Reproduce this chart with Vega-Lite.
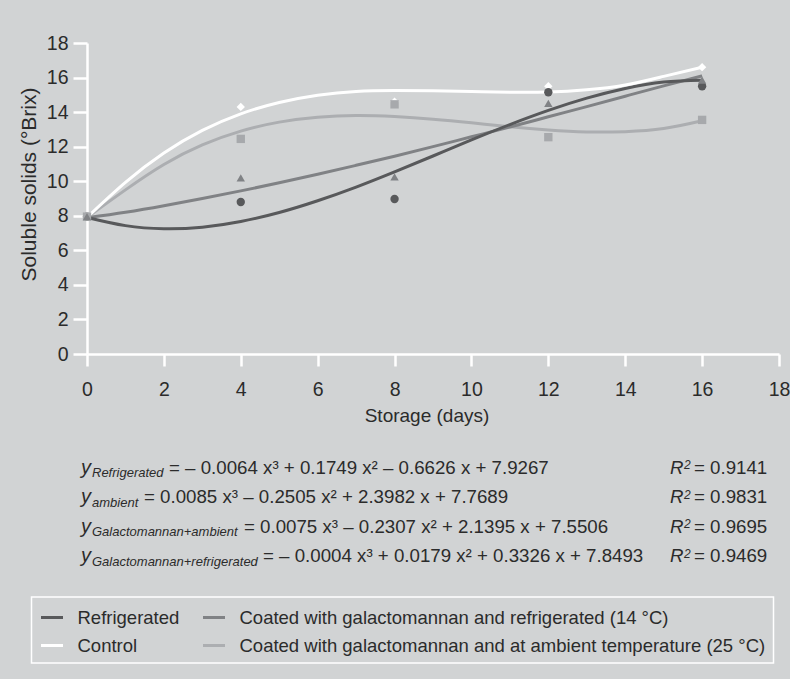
{
  "$schema": "https://vega.github.io/schema/vega-lite/v6.json",
  "width": 692,
  "height": 311,
  "autosize": {"type": "none"},
  "padding": {"left": 87, "top": 43, "right": 11, "bottom": 325},
  "background": "#d1d3d4",
  "config": {
    "view": {"stroke": null},
    "font": "Liberation Sans",
    "axis": {
      "grid": false,
      "domainColor": "#ffffff",
      "domainWidth": 2.5,
      "tickColor": "#ffffff",
      "tickWidth": 2.5,
      "labelFont": "Liberation Sans",
      "labelFontSize": 19.5,
      "labelColor": "#2b2b2b",
      "labelFlush": false,
      "titleFont": "Liberation Sans",
      "titleFontSize": 19,
      "titleFontWeight": "normal",
      "titleColor": "#2b2b2b"
    },
    "legend": {"strokeWidth": 1.5}
  },
  "datasets": {
    "curves": [
      {"series": "Coated with galactomannan and at ambient temperature (25 °C)", "day": 0, "brix": 7.9},
      {"series": "Coated with galactomannan and at ambient temperature (25 °C)", "day": 1, "brix": 9.5},
      {"series": "Coated with galactomannan and at ambient temperature (25 °C)", "day": 2, "brix": 10.97},
      {"series": "Coated with galactomannan and at ambient temperature (25 °C)", "day": 3, "brix": 12.1},
      {"series": "Coated with galactomannan and at ambient temperature (25 °C)", "day": 4, "brix": 12.9},
      {"series": "Coated with galactomannan and at ambient temperature (25 °C)", "day": 5, "brix": 13.42},
      {"series": "Coated with galactomannan and at ambient temperature (25 °C)", "day": 6, "brix": 13.7},
      {"series": "Coated with galactomannan and at ambient temperature (25 °C)", "day": 7, "brix": 13.8},
      {"series": "Coated with galactomannan and at ambient temperature (25 °C)", "day": 8, "brix": 13.74},
      {"series": "Coated with galactomannan and at ambient temperature (25 °C)", "day": 9, "brix": 13.59},
      {"series": "Coated with galactomannan and at ambient temperature (25 °C)", "day": 10, "brix": 13.38},
      {"series": "Coated with galactomannan and at ambient temperature (25 °C)", "day": 11, "brix": 13.15},
      {"series": "Coated with galactomannan and at ambient temperature (25 °C)", "day": 12, "brix": 12.96},
      {"series": "Coated with galactomannan and at ambient temperature (25 °C)", "day": 13, "brix": 12.85},
      {"series": "Coated with galactomannan and at ambient temperature (25 °C)", "day": 14, "brix": 12.87},
      {"series": "Coated with galactomannan and at ambient temperature (25 °C)", "day": 15, "brix": 13.05},
      {"series": "Coated with galactomannan and at ambient temperature (25 °C)", "day": 16, "brix": 13.5},
      {"series": "Coated with galactomannan and refrigerated (14 °C)", "day": 0, "brix": 7.88},
      {"series": "Coated with galactomannan and refrigerated (14 °C)", "day": 1, "brix": 8.2},
      {"series": "Coated with galactomannan and refrigerated (14 °C)", "day": 2, "brix": 8.58},
      {"series": "Coated with galactomannan and refrigerated (14 °C)", "day": 3, "brix": 9.0},
      {"series": "Coated with galactomannan and refrigerated (14 °C)", "day": 4, "brix": 9.44},
      {"series": "Coated with galactomannan and refrigerated (14 °C)", "day": 5, "brix": 9.91},
      {"series": "Coated with galactomannan and refrigerated (14 °C)", "day": 6, "brix": 10.4},
      {"series": "Coated with galactomannan and refrigerated (14 °C)", "day": 7, "brix": 10.92},
      {"series": "Coated with galactomannan and refrigerated (14 °C)", "day": 8, "brix": 11.45},
      {"series": "Coated with galactomannan and refrigerated (14 °C)", "day": 9, "brix": 12.0},
      {"series": "Coated with galactomannan and refrigerated (14 °C)", "day": 10, "brix": 12.57},
      {"series": "Coated with galactomannan and refrigerated (14 °C)", "day": 11, "brix": 13.14},
      {"series": "Coated with galactomannan and refrigerated (14 °C)", "day": 12, "brix": 13.73},
      {"series": "Coated with galactomannan and refrigerated (14 °C)", "day": 13, "brix": 14.32},
      {"series": "Coated with galactomannan and refrigerated (14 °C)", "day": 14, "brix": 14.92},
      {"series": "Coated with galactomannan and refrigerated (14 °C)", "day": 15, "brix": 15.52},
      {"series": "Coated with galactomannan and refrigerated (14 °C)", "day": 16, "brix": 16.1},
      {"series": "Refrigerated", "day": 0, "brix": 7.9},
      {"series": "Refrigerated", "day": 1, "brix": 7.43},
      {"series": "Refrigerated", "day": 2, "brix": 7.25},
      {"series": "Refrigerated", "day": 3, "brix": 7.34},
      {"series": "Refrigerated", "day": 4, "brix": 7.67},
      {"series": "Refrigerated", "day": 5, "brix": 8.19},
      {"series": "Refrigerated", "day": 6, "brix": 8.87},
      {"series": "Refrigerated", "day": 7, "brix": 9.66},
      {"series": "Refrigerated", "day": 8, "brix": 10.54},
      {"series": "Refrigerated", "day": 9, "brix": 11.46},
      {"series": "Refrigerated", "day": 10, "brix": 12.39},
      {"series": "Refrigerated", "day": 11, "brix": 13.28},
      {"series": "Refrigerated", "day": 12, "brix": 14.1},
      {"series": "Refrigerated", "day": 13, "brix": 14.81},
      {"series": "Refrigerated", "day": 14, "brix": 15.37},
      {"series": "Refrigerated", "day": 15, "brix": 15.74},
      {"series": "Refrigerated", "day": 16, "brix": 15.85},
      {"series": "Control", "day": 0, "brix": 7.9},
      {"series": "Control", "day": 1, "brix": 9.93},
      {"series": "Control", "day": 2, "brix": 11.63},
      {"series": "Control", "day": 3, "brix": 12.94},
      {"series": "Control", "day": 4, "brix": 13.9},
      {"series": "Control", "day": 5, "brix": 14.56},
      {"series": "Control", "day": 6, "brix": 14.98},
      {"series": "Control", "day": 7, "brix": 15.2},
      {"series": "Control", "day": 8, "brix": 15.25},
      {"series": "Control", "day": 9, "brix": 15.24},
      {"series": "Control", "day": 10, "brix": 15.2},
      {"series": "Control", "day": 11, "brix": 15.15},
      {"series": "Control", "day": 12, "brix": 15.16},
      {"series": "Control", "day": 13, "brix": 15.29},
      {"series": "Control", "day": 14, "brix": 15.57},
      {"series": "Control", "day": 15, "brix": 16.07},
      {"series": "Control", "day": 16, "brix": 16.6}
    ],
    "obs": [
      {"group": "Control", "day": 0, "brix": 7.95},
      {"group": "Control", "day": 4, "brix": 14.3},
      {"group": "Control", "day": 8, "brix": 14.6},
      {"group": "Control", "day": 12, "brix": 15.5},
      {"group": "Control", "day": 16, "brix": 16.6},
      {"group": "Refrigerated", "day": 0, "brix": 7.95},
      {"group": "Refrigerated", "day": 4, "brix": 8.8},
      {"group": "Refrigerated", "day": 8, "brix": 8.97},
      {"group": "Refrigerated", "day": 12, "brix": 15.15},
      {"group": "Refrigerated", "day": 16, "brix": 15.5},
      {"group": "Galactomannan ambient", "day": 0, "brix": 7.95},
      {"group": "Galactomannan ambient", "day": 4, "brix": 12.45},
      {"group": "Galactomannan ambient", "day": 8, "brix": 14.45},
      {"group": "Galactomannan ambient", "day": 12, "brix": 12.55},
      {"group": "Galactomannan ambient", "day": 16, "brix": 13.55},
      {"group": "Galactomannan refrigerated", "day": 0, "brix": 7.95},
      {"group": "Galactomannan refrigerated", "day": 4, "brix": 10.2},
      {"group": "Galactomannan refrigerated", "day": 8, "brix": 10.25},
      {"group": "Galactomannan refrigerated", "day": 12, "brix": 14.5},
      {"group": "Galactomannan refrigerated", "day": 16, "brix": 15.85}
    ],
    "eq": [
      {"line": 1, "sub": "Refrigerated", "rhs": "= – 0.0064 x³ + 0.1749 x² – 0.6626 x + 7.9267", "r2": "= 0.9141"},
      {"line": 2, "sub": "ambient", "rhs": "= 0.0085 x³ – 0.2505 x² + 2.3982 x + 7.7689", "r2": "= 0.9831"},
      {"line": 3, "sub": "Galactomannan+ambient", "rhs": "= 0.0075 x³ – 0.2307 x² + 2.1395 x + 7.5506", "r2": "= 0.9695"},
      {"line": 4, "sub": "Galactomannan+refrigerated", "rhs": "= – 0.0004 x³ + 0.0179 x² + 0.3326 x + 7.8493", "r2": "= 0.9469"}
    ]
  },
  "layer": [
    {
      "data": {"name": "curves"},
      "mark": {"type": "line", "interpolate": "natural", "strokeWidth": 3},
      "encoding": {
        "x": {
          "field": "day", "type": "quantitative",
          "scale": {"domain": [0, 18]},
          "axis": {
            "values": [0, 2, 4, 6, 8, 10, 12, 14, 16, 18],
            "title": "Storage (days)",
            "tickSize": 12,
            "labelPadding": 14,
            "titleX": 339.5,
            "titleY": 67,
            "titleBaseline": "alphabetic"
          }
        },
        "y": {
          "field": "brix", "type": "quantitative",
          "scale": {"domain": [0, 18]},
          "axis": {
            "values": [0, 2, 4, 6, 8, 10, 12, 14, 16, 18],
            "title": "Soluble solids (°Brix)",
            "titleFontSize": 21,
            "tickSize": 14,
            "labelPadding": 5,
            "titleX": -58,
            "titleY": 141,
            "titleAlign": "center",
            "titleBaseline": "middle",
            "titleAngle": -90
          }
        },
        "color": {
          "field": "series", "type": "nominal",
          "scale": {
            "domain": ["Refrigerated", "Control", "Coated with galactomannan and refrigerated (14 °C)", "Coated with galactomannan and at ambient temperature (25 °C)"],
            "range": ["#58595b", "#ffffff", "#808285", "#acaeb1"]
          },
          "legend": {
            "title": null,
            "orient": "none",
            "legendX": -55.5,
            "legendY": 554,
            "columns": 2,
            "symbolType": "stroke",
            "symbolSize": 484,
            "symbolStrokeWidth": 3,
            "labelFont": "Liberation Sans",
            "labelFontSize": 18.5,
            "labelColor": "#2b2b2b",
            "labelOffset": 13,
            "labelLimit": 700,
            "columnPadding": 17,
            "rowPadding": 6,
            "padding": 8,
            "strokeColor": "#ffffff"
          }
        }
      }
    },
    {
      "data": {"name": "obs"},
      "mark": {"type": "point", "filled": true, "opacity": 1, "size": 70},
      "encoding": {
        "x": {"field": "day", "type": "quantitative", "scale": {"domain": [0, 18]}},
        "y": {"field": "brix", "type": "quantitative", "scale": {"domain": [0, 18]}, "axis": null},
        "shape": {
          "field": "group", "type": "nominal",
          "scale": {
            "domain": ["Refrigerated", "Galactomannan refrigerated", "Control", "Galactomannan ambient"],
            "range": ["circle", "triangle-up", "diamond", "square"]
          },
          "legend": null
        },
        "fill": {
          "field": "group", "type": "nominal",
          "scale": {
            "domain": ["Refrigerated", "Galactomannan refrigerated", "Control", "Galactomannan ambient"],
            "range": ["#58595b", "#808285", "#ffffff", "#a7a9ac"]
          },
          "legend": null
        }
      }
    },
    {
      "data": {"name": "eq"},
      "mark": {"type": "text", "text": "y", "fontStyle": "italic", "fontSize": 20, "align": "left", "baseline": "alphabetic", "fill": "#2b2b2b"},
      "encoding": {
        "x": {"value": -6},
        "y": {"field": "line", "type": "quantitative", "scale": {"domain": [1, 4], "range": [430.5, 519]}, "axis": null}
      }
    },
    {
      "data": {"name": "eq"},
      "mark": {"type": "text", "fontStyle": "italic", "fontSize": 13, "align": "left", "baseline": "alphabetic", "dy": 3.5, "fill": "#2b2b2b"},
      "encoding": {
        "text": {"field": "sub"},
        "x": {"value": 5},
        "y": {"field": "line", "type": "quantitative", "scale": {"domain": [1, 4], "range": [430.5, 519]}, "axis": null}
      }
    },
    {
      "data": {"name": "eq"},
      "transform": [{"filter": "datum.line == 1"}],
      "mark": {"type": "text", "fontSize": 18.7, "align": "left", "baseline": "alphabetic", "fill": "#2b2b2b"},
      "encoding": {
        "text": {"field": "rhs"},
        "x": {"value": 82},
        "y": {"field": "line", "type": "quantitative", "scale": {"domain": [1, 4], "range": [430.5, 519]}, "axis": null}
      }
    },
    {
      "data": {"name": "eq"},
      "transform": [{"filter": "datum.line == 2"}],
      "mark": {"type": "text", "fontSize": 18.7, "align": "left", "baseline": "alphabetic", "fill": "#2b2b2b"},
      "encoding": {
        "text": {"field": "rhs"},
        "x": {"value": 57},
        "y": {"field": "line", "type": "quantitative", "scale": {"domain": [1, 4], "range": [430.5, 519]}, "axis": null}
      }
    },
    {
      "data": {"name": "eq"},
      "transform": [{"filter": "datum.line == 3"}],
      "mark": {"type": "text", "fontSize": 18.7, "align": "left", "baseline": "alphabetic", "fill": "#2b2b2b"},
      "encoding": {
        "text": {"field": "rhs"},
        "x": {"value": 157},
        "y": {"field": "line", "type": "quantitative", "scale": {"domain": [1, 4], "range": [430.5, 519]}, "axis": null}
      }
    },
    {
      "data": {"name": "eq"},
      "transform": [{"filter": "datum.line == 4"}],
      "mark": {"type": "text", "fontSize": 18.7, "align": "left", "baseline": "alphabetic", "fill": "#2b2b2b"},
      "encoding": {
        "text": {"field": "rhs"},
        "x": {"value": 176},
        "y": {"field": "line", "type": "quantitative", "scale": {"domain": [1, 4], "range": [430.5, 519]}, "axis": null}
      }
    },
    {
      "data": {"name": "eq"},
      "mark": {"type": "text", "text": "R", "fontStyle": "italic", "fontSize": 18.7, "align": "left", "baseline": "alphabetic", "fill": "#2b2b2b"},
      "encoding": {
        "x": {"value": 583},
        "y": {"field": "line", "type": "quantitative", "scale": {"domain": [1, 4], "range": [430.5, 519]}, "axis": null}
      }
    },
    {
      "data": {"name": "eq"},
      "mark": {"type": "text", "text": "2", "fontStyle": "italic", "fontSize": 12, "align": "left", "baseline": "alphabetic", "dy": -4.5, "fill": "#2b2b2b"},
      "encoding": {
        "x": {"value": 597},
        "y": {"field": "line", "type": "quantitative", "scale": {"domain": [1, 4], "range": [430.5, 519]}, "axis": null}
      }
    },
    {
      "data": {"name": "eq"},
      "mark": {"type": "text", "fontSize": 18.7, "align": "left", "baseline": "alphabetic", "fill": "#2b2b2b"},
      "encoding": {
        "text": {"field": "r2"},
        "x": {"value": 607},
        "y": {"field": "line", "type": "quantitative", "scale": {"domain": [1, 4], "range": [430.5, 519]}, "axis": null}
      }
    }
  ],
  "resolve": {"scale": {"y": "independent"}}
}
